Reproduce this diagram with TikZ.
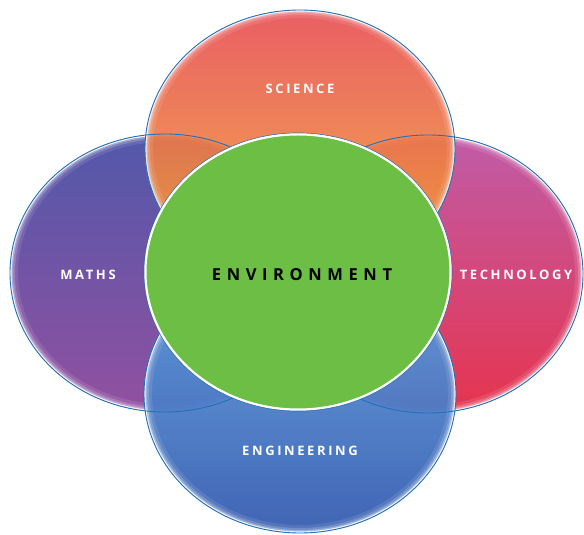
\documentclass[tikz,border=0pt]{standalone}
\usepackage{fontspec}
\newfontfamily\lbl[LetterSpace=20]{Open Sans}
\newfontfamily\lblwide[LetterSpace=34]{Open Sans}
\definecolor{ringblue}{RGB}{34,112,182}
\definecolor{sciTop}{RGB}{231,78,84}
\definecolor{sciMid}{RGB}{240,138,68}
\definecolor{sciBot}{RGB}{246,172,52}
\definecolor{matTop}{RGB}{82,88,170}
\definecolor{matMid}{RGB}{118,82,166}
\definecolor{matBot}{RGB}{146,80,160}
\definecolor{tecTop}{RGB}{192,92,168}
\definecolor{tecMid}{RGB}{234,70,140}
\definecolor{tecBot}{RGB}{230,52,78}
\definecolor{engTop}{RGB}{100,164,226}
\definecolor{engMid}{RGB}{62,108,192}
\definecolor{engBot}{RGB}{54,92,176}
\definecolor{envGreen}{RGB}{108,190,68}
% soft white rim just inside an ellipse
\newcommand\softrim[2]{%
  \begin{scope}
    \clip #1 ellipse (#2);
    \draw[white, line width=16, opacity=.10] #1 ellipse (#2);
    \draw[white, line width=10, opacity=.18] #1 ellipse (#2);
    \draw[white, line width=6, opacity=.30] #1 ellipse (#2);
    \draw[white, line width=3.2, opacity=.85] #1 ellipse (#2);
  \end{scope}}
\begin{document}
\begin{tikzpicture}[x=1pt,y=1pt,
  ring/.style={draw=ringblue, line width=0.9pt},
  sublabel/.style={text=white, inner sep=0pt,
    font=\lbl\bfseries\fontsize{13}{15}\selectfont},
  mainlabel/.style={text=black, inner sep=0pt,
    font=\lblwide\bfseries\fontsize{16.5}{18}\selectfont}]
\useasboundingbox (0,0) rectangle (584,535);
\fill[white] (0,0) rectangle (584,535);

% ellipse centres and radii
\coordinate (cSci) at (300,386);
\coordinate (cMat) at (165,262);
\coordinate (cTec) at (428,261);
\coordinate (cEng) at (300,141);
\coordinate (cEnv) at (298,263);

% side discs
\shade[top color=matTop, middle color=matMid, bottom color=matBot]
  (cMat) ellipse (155 and 139);
\softrim{(cMat)}{155 and 139}
\shade[top color=tecTop, middle color=tecMid, bottom color=tecBot]
  (cTec) ellipse (155 and 139);
\softrim{(cTec)}{155 and 139}

% top and bottom discs, slightly see-through
\begin{scope}[opacity=.9, transparency group]
  \shade[top color=sciTop, middle color=sciMid, bottom color=sciBot]
    (cSci) ellipse (155 and 139);
  \softrim{(cSci)}{155 and 139}
\end{scope}
\begin{scope}[opacity=.95, transparency group]
  \shade[top color=engTop, middle color=engMid, bottom color=engBot]
    (cEng) ellipse (156 and 139);
  \softrim{(cEng)}{156 and 139}
\end{scope}

% thin outlines over every disc
\draw[ring] (cMat) ellipse (155 and 139);
\draw[ring] (cTec) ellipse (155 and 139);
\draw[ring] (cSci) ellipse (155 and 139);
\draw[ring] (cEng) ellipse (156 and 139);

% central disc
\fill[envGreen] (cEnv) ellipse (153 and 138);
\draw[ringblue, line width=0.7pt] (cEnv) ellipse (154 and 139);
\draw[white, line width=2.2pt] (cEnv) ellipse (152.6 and 137.6);

% labels
\node[sublabel] (science) at (300,446) {SCIENCE};
\node[sublabel] (maths) at (88,260) {MATHS};
\node[sublabel] (technology) at (516,260) {TECHNOLOGY};
\node[sublabel] (engineering) at (300,84) {ENGINEERING};
\node[mainlabel] (environment) at (302,260) {ENVIRONMENT};
\end{tikzpicture}
\end{document}
